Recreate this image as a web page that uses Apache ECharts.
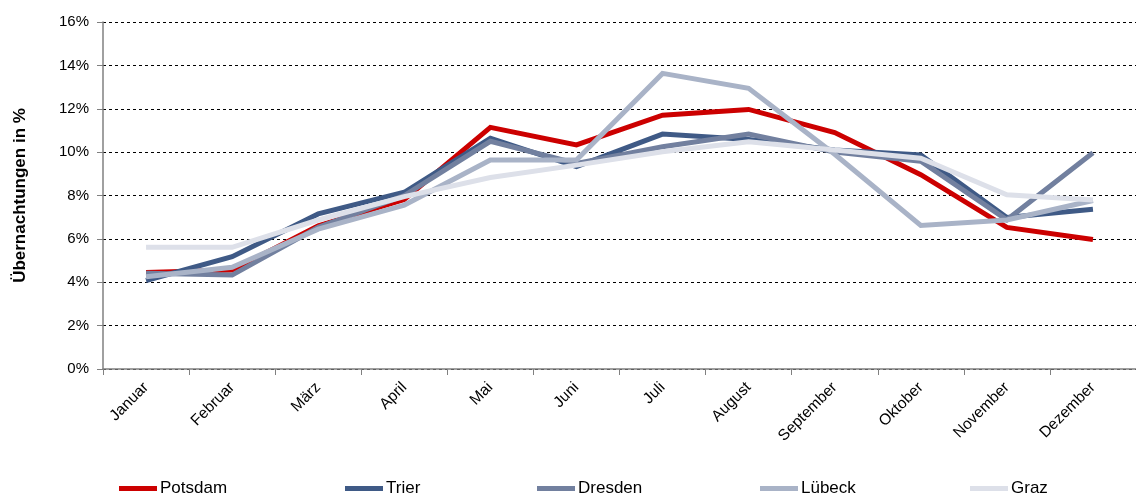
<!DOCTYPE html>
<html>
<head>
<meta charset="utf-8">
<script src="https://cdn.jsdelivr.net/npm/echarts@6/dist/echarts.min.js"></script>
<style>
  html, body { margin: 0; padding: 0; background: #fff; }
  #chart { width: 1136px; height: 495px; }
</style>
</head>
<body>
<div id="chart"></div>
<script>
var months = ['Januar', 'Februar', 'März', 'April', 'Mai', 'Juni', 'Juli', 'August', 'September', 'Oktober', 'November', 'Dezember'];
var cities = ['Potsdam', 'Trier', 'Dresden', 'Lübeck', 'Graz'];
var potsdam = [4.45, 4.56, 6.6, 7.82, 11.14, 10.33, 11.7, 11.97, 10.9, 8.96, 6.53, 5.97];
var trier   = [4.08, 5.18, 7.15, 8.15, 10.64, 9.33, 10.83, 10.58, 10.1, 9.87, 6.99, 7.37];
var dresden = [4.42, 4.33, 6.53, 8.0, 10.5, 9.48, 10.25, 10.83, 10.0, 9.58, 6.88, 9.97];
var luebeck = [4.25, 4.69, 6.45, 7.56, 9.64, 9.64, 13.63, 12.94, 9.9, 6.62, 6.87, 7.77];
var graz    = [5.61, 5.61, 6.87, 7.95, 8.83, 9.4, 10.02, 10.48, 10.1, 9.72, 8.03, 7.79];
var yTicks = [0, 2, 4, 6, 8, 10, 12, 14, 16];

var colors = ['#cc0000', '#3f5a86', '#72809f', '#a9b3c7', '#dde0e9'];
var values = [potsdam, trier, dresden, luebeck, graz];
var legendLeft = [119, 345, 537, 760, 970];

var chart = echarts.init(document.getElementById('chart'));

var series = [];
var legends = [];
for (var i = 0; i < cities.length; i++) {
  series.push({
    name: cities[i],
    type: 'line',
    data: values[i],
    symbol: 'none',
    lineStyle: { width: 5, color: colors[i], join: 'miter' },
    itemStyle: { color: colors[i] },
    z: 2 + i
  });
  legends.push({
    data: [{ name: cities[i], icon: 'rect' }],
    left: legendLeft[i],
    top: 480,
    itemWidth: 38,
    itemHeight: 5,
    itemGap: 0,
    padding: 0,
    textStyle: { fontFamily: 'Liberation Sans', fontSize: 17, color: '#000', padding: [0, 0, 0, -2] }
  });
}

var option = {
  animation: false,
  color: colors,
  legend: legends,
  grid: { left: 103, right: -8, top: 22, bottom: 126, containLabel: false },
  xAxis: {
    type: 'category',
    data: months,
    boundaryGap: true,
    axisLine: { lineStyle: { color: '#808080', width: 1.5 } },
    axisTick: { show: true, length: 6, inside: false, alignWithLabel: false, lineStyle: { color: '#808080' } },
    axisLabel: {
      rotate: 45,
      interval: 0,
      margin: 16,
      fontFamily: 'Liberation Sans',
      fontSize: 15.5,
      color: '#000'
    },
    splitLine: { show: false }
  },
  yAxis: {
    type: 'value',
    min: yTicks[0],
    max: yTicks[yTicks.length - 1],
    interval: 2,
    name: 'Übernachtungen in %',
    nameLocation: 'middle',
    nameGap: 74,
    nameRotate: 90,
    nameTextStyle: { fontFamily: 'Liberation Sans', fontSize: 17, fontWeight: 'bold', color: '#000' },
    axisLine: { show: true, lineStyle: { color: '#808080', width: 1.5 } },
    axisTick: { show: true, length: 6, inside: false, lineStyle: { color: '#808080' } },
    axisLabel: {
      margin: 14,
      fontFamily: 'Liberation Sans',
      fontSize: 15,
      color: '#000',
      formatter: function (v) { return v + '%'; }
    },
    splitLine: { show: true, lineStyle: { color: '#000', type: [3, 3], width: 1 } }
  },
  series: series
};

chart.setOption(option);
</script>
</body>
</html>
